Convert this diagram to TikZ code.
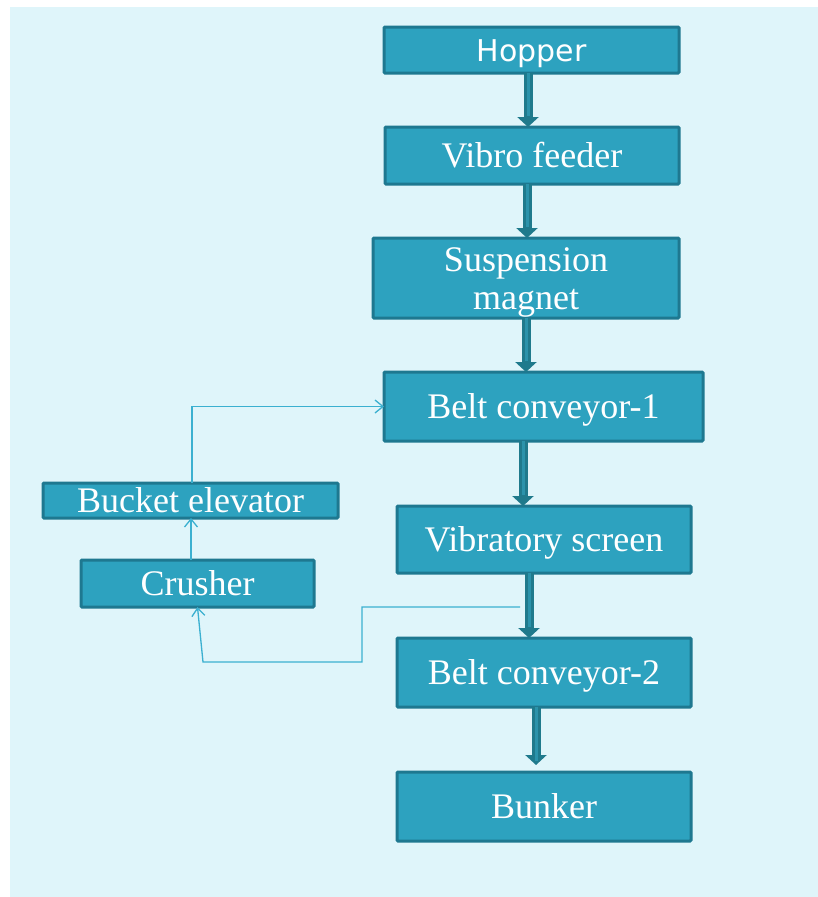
\documentclass[tikz,border=0pt]{standalone}
\usepackage{fontspec}
\setmainfont{Liberation Serif}
\newfontfamily\hopfont{DejaVu Sans}
\usetikzlibrary{arrows.meta}
\definecolor{bgc}{HTML}{DFF5FA}
\definecolor{boxfill}{HTML}{2DA2BF}
\definecolor{boxline}{HTML}{1E7890}
\definecolor{arrdark}{HTML}{1F7A8C}
\definecolor{arrmid}{HTML}{2B93AB}
\definecolor{thinc}{HTML}{3BB0D0}
\tikzset{
  procbox/.style={draw=boxline, fill=boxfill, line width=3pt, rounded corners=1pt,
    text=white, inner sep=0pt, outer sep=0pt, anchor=center,
    font=\fontsize{36}{38}\selectfont, text height=24pt, text depth=0pt},
  bigarrow/.style={draw=arrdark, line width=9pt, -{Triangle[width=21pt,length=10pt]},
    postaction={draw=arrmid, line width=3pt, -, shorten >=11pt}},
  thinarrow/.style={draw=thinc, line width=1.3pt, -{Straight Barb[length=8pt,width=13pt]}},
  thinline/.style={draw=thinc, line width=1.3pt}
}
\begin{document}
\begin{tikzpicture}[x=1pt,y=-1pt]
\useasboundingbox (0,0) rectangle (818,897);
\fill[bgc] (10,7) rectangle (818,897);
\node[procbox, minimum width=295pt, minimum height=46pt, font=\hopfont\fontsize{30}{32}\selectfont, text height=22pt] (hopper) at (531.5,50) {Hopper};
\node[procbox, minimum width=294pt, minimum height=57pt] (vibro) at (532,155.5) {Vibro feeder};
\node[procbox, minimum width=306pt, minimum height=80pt, align=center, text height=62pt] (susp) at (526,278) {Suspension\\magnet};
\node[procbox, minimum width=319pt, minimum height=69pt] (belt1) at (543.5,406.5) {Belt conveyor-1};
\node[procbox, minimum width=294pt, minimum height=67pt] (vib) at (544,539.5) {Vibratory screen};
\node[procbox, minimum width=294pt, minimum height=69pt] (belt2) at (544,672.5) {Belt conveyor-2};
\node[procbox, minimum width=294pt, minimum height=69pt] (bunker) at (544,806.5) {Bunker};
\node[procbox, minimum width=295pt, minimum height=35pt] (bucket) at (190.5,500.5) {Bucket elevator};
\node[procbox, minimum width=233pt, minimum height=47pt] (crusher) at (197.5,583.5) {Crusher};
% main flow
\draw[bigarrow] ([xshift=-3.5pt]hopper.south) -- ([xshift=-4pt]vibro.north);
\draw[bigarrow] ([xshift=-5pt]vibro.south) -- ([xshift=1pt]susp.north);
\draw[bigarrow] (susp.south) -- ([xshift=-17.5pt]belt1.north);
\draw[bigarrow] ([xshift=-20.5pt]belt1.south) -- ([xshift=-21pt]vib.north);
\draw[bigarrow] ([xshift=-15pt]vib.south) -- ([xshift=-15pt]belt2.north);
\draw[bigarrow, shorten >=7pt] ([xshift=-8pt]belt2.south) -- ([xshift=-8pt]bunker.north);
% recycle loop
\coordinate (tap) at (520,607);
\coordinate (c1) at (362,607);
\coordinate (c2) at (362,662);
\coordinate (c3) at (203,662);
\draw[thinarrow] (tap) -- (c1) -- (c2) -- (c3) -- (crusher.south);
\draw[thinarrow] ([xshift=-6.5pt]crusher.north) -- ([xshift=0.5pt]bucket.south);
\draw[thinarrow] ([xshift=1.5pt]bucket.north) |- (belt1.west);
\end{tikzpicture}
\end{document}
